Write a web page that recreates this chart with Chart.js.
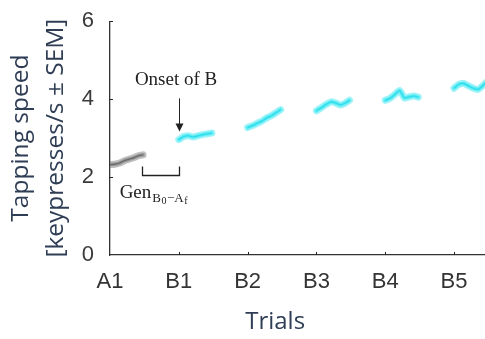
<!DOCTYPE html>
<html>
<head>
<meta charset="utf-8">
<script src="https://cdn.jsdelivr.net/npm/chart.js@4.4.1/dist/chart.umd.min.js"></script>
<style>
  html, body { margin: 0; padding: 0; background: #fff; }
  #wrap { width: 485px; height: 339px; }
</style>
</head>
<body>
<div id="wrap"><canvas id="speedChart"></canvas></div>
<script>
// block labels on the x axis (one per block of trials)
const blockLabels = ['A1', 'B1', 'B2', 'B3', 'B4', 'B5'];
// position of each trial inside a block, in block units
const trialOffsets = [0, 0.07, 0.14, 0.21, 0.28, 0.35, 0.42, 0.48];
// tapping speed per trial (keypresses/s)
const speedA1 = [2.32, 2.33, 2.36, 2.42, 2.46, 2.50, 2.55, 2.57];
const speedB1 = [2.96, 3.04, 3.06, 3.03, 3.06, 3.09, 3.11, 3.13];
const speedB2 = [3.27, 3.32, 3.38, 3.44, 3.52, 3.58, 3.66, 3.73];
const speedB3 = [3.70, 3.78, 3.86, 3.93, 3.90, 3.85, 3.90, 3.97];
const speedB4 = [3.97, 4.02, 4.12, 4.22, 4.03, 4.06, 4.08, 4.05];
const speedB5 = [4.28, 4.38, 4.40, 4.34, 4.28, 4.25, 4.35, 4.45];
const yTicks = [0, 2, 4, 6];

const blocks = [speedA1, speedB1, speedB2, speedB3, speedB4, speedB5];

function toPoints(block, values) {
    return values.map((v, i) => ({ x: block + trialOffsets[i], y: v }));
}

const datasets = [];
blocks.forEach((vals, b) => {
    const isA = b === 0;
    // soft band (SEM)
    datasets.push({
        data: toPoints(b, vals),
        borderColor: isA ? 'rgba(130,130,130,0.5)' : 'rgba(60,232,242,0.5)',
        borderWidth: 7,
        tension: 0.2,
        pointRadius: 0,
        borderCapStyle: 'round'
    });
    datasets.push({
        data: toPoints(b, vals),
        borderColor: isA ? 'rgba(110,110,110,0.6)' : 'rgba(30,225,238,0.6)',
        borderWidth: 3.5,
        tension: 0.2,
        pointRadius: 0,
        borderCapStyle: 'round'
    });
    // mean line
    datasets.push({
        data: toPoints(b, vals),
        borderColor: isA ? '#222222' : '#14c4d4',
        borderWidth: 1.2,
        tension: 0.2,
        pointRadius: 0
    });
});

// annotations + inward tick marks
const annotations = {
    id: 'annotations',
    afterDatasetsDraw(chart) {
        const c = chart.ctx;
        const x = chart.scales.x, y = chart.scales.y;
        c.save();
        c.strokeStyle = '#222';
        c.fillStyle = '#222';
        c.lineWidth = 1;

        // tick marks pointing into the plot
        yTicks.slice(1).forEach(t => {
            const py = Math.round(y.getPixelForValue(t)) + 0.5;
            c.beginPath(); c.moveTo(x.left, py); c.lineTo(x.left + 3, py); c.stroke();
        });
        for (let b = 1; b < blockLabels.length; b++) {
            const px = Math.round(x.getPixelForValue(b)) + 0.5;
            c.beginPath(); c.moveTo(px, y.bottom); c.lineTo(px, y.bottom - 3); c.stroke();
        }

        const serif = '"Liberation Serif", "DejaVu Serif", serif';

        // "Onset of B" with arrow
        const ax = Math.round(x.getPixelForValue(1)) + 0.5;
        c.font = '19px ' + serif;
        c.textAlign = 'center';
        c.textBaseline = 'middle';
        c.fillText('Onset of B', x.getPixelForValue(0.96), y.getPixelForValue(4.5));
        const yTop = y.getPixelForValue(4.02), yTip = y.getPixelForValue(3.17);
        c.beginPath(); c.moveTo(ax, yTop); c.lineTo(ax, yTip - 6); c.stroke();
        c.beginPath();
        c.moveTo(ax - 4, yTip - 8); c.lineTo(ax + 4, yTip - 8); c.lineTo(ax, yTip);
        c.closePath(); c.fill();

        // bracket
        const bx0 = Math.round(x.getPixelForValue(0.47)) + 0.5;
        const by = Math.round(y.getPixelForValue(2.05)) + 0.5;
        const byTop = y.getPixelForValue(2.27);
        c.lineWidth = 1.3;
        c.beginPath();
        c.moveTo(bx0, byTop); c.lineTo(bx0, by); c.lineTo(ax, by); c.lineTo(ax, byTop);
        c.stroke();

        // Gen_{B0-Af}
        c.textAlign = 'left';
        c.textBaseline = 'alphabetic';
        let gx = x.getPixelForValue(0.14);
        const gy = y.getPixelForValue(1.45);
        const parts = [
            ['Gen', 19, 0],
            ['B', 13, 4],
            ['0', 10, 6],
            ['\u2212A', 13, 4],
            ['f', 10, 6]
        ];
        parts.forEach(p => {
            c.font = p[1] + 'px ' + serif;
            c.fillText(p[0], gx, gy + p[2]);
            gx += c.measureText(p[0]).width + (p[0] === 'Gen' ? 1 : 0.5);
        });

        // x axis title centred under the labelled blocks
        c.font = '24px "Open Sans", sans-serif';
        c.fillStyle = '#2f3d55';
        c.textAlign = 'center';
        c.textBaseline = 'middle';
        c.fillText('Trials', x.getPixelForValue(2.4), 322);
        c.restore();
    }
};

new Chart(document.getElementById('speedChart'), {
    type: 'line',
    data: { datasets: datasets },
    options: {
        responsive: true,
        maintainAspectRatio: false,
        animation: false,
        layout: { padding: { top: 18, right: 0, left: 0, bottom: 0 } },
        plugins: {
            legend: { display: false },
            tooltip: { enabled: false }
        },
        scales: {
            x: {
                type: 'linear',
                min: 0,
                max: 5.45,
                afterFit: s => { s.height = 84; },
                grid: { display: false },
                border: { display: true, color: '#333', width: 1.3 },
                ticks: {
                    stepSize: 1,
                    includeBounds: false,
                    autoSkip: false,
                    maxRotation: 0,
                    padding: 6,
                    color: '#333',
                    font: { family: '"Liberation Sans", Arial, sans-serif', size: 22 },
                    callback: v => Number.isInteger(v) ? blockLabels[v] : ''
                }
            },
            y: {
                min: 0,
                max: 6,
                afterFit: s => { s.width = 110; },
                grid: { display: false },
                border: { display: true, color: '#333', width: 1.3 },
                afterBuildTicks: s => { s.ticks = yTicks.map(v => ({ value: v })); },
                ticks: {
                    padding: 8,
                    color: '#3a3a3a',
                    font: { family: '"Liberation Sans", Arial, sans-serif', size: 22 }
                },
                title: {
                    display: true,
                    text: ['Tapping speed', '[keypresses/s \u00b1 SEM]'],
                    color: '#2f3d55',
                    font: { family: '"Open Sans", sans-serif', size: 24.5, lineHeight: 1.42 },
                    padding: { top: 4, bottom: 0 }
                }
            }
        }
    },
    plugins: [annotations]
});
</script>
</body>
</html>
